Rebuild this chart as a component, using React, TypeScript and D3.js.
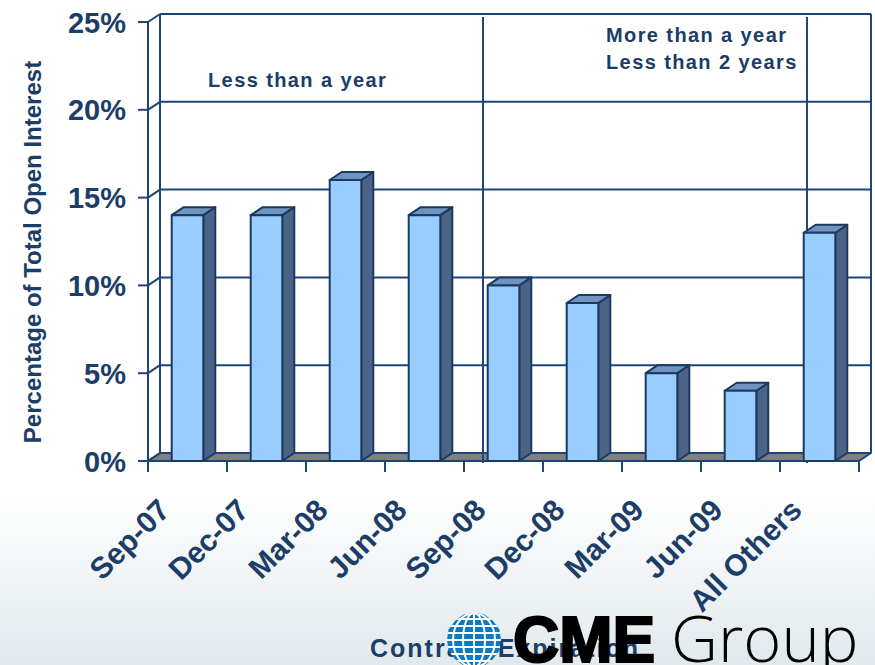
import React from "react";
import * as d3 from "d3";

const categories = ["Sep-07", "Dec-07", "Mar-08", "Jun-08", "Sep-08", "Dec-08", "Mar-09", "Jun-09", "All Others"];
const values = [14, 14, 16, 14, 10, 9, 5, 4, 13];
const yTicks = [0, 5, 10, 15, 20, 25];
const yTitle = "Percentage of Total Open Interest";
const xTitle = "Contract Expiration";
const note1 = ["Less than a year"];
const note2 = ["More than a year", "Less than 2 years"];

const W = 875, H = 665;
const L = 148, R = 859, Y0 = 461, YT = 22;
const DX = 12, DY = -8;
const NAVY = "#1B3D68";
const LINE = "#1F4476";
const FONT = "'Liberation Sans', Arial, sans-serif";

export default function App() {
  const x = d3.scaleBand<string>().domain(categories).range([L, R]).paddingInner(0.6).paddingOuter(0.3);
  const step = x.step();
  const y = d3.scaleLinear().domain([0, 25]).range([Y0, YT]);
  const bw = x.bandwidth();

  const gridLines = yTicks.map((t) => {
    const yf = y(t);
    return (
      <g key={"g" + t}>
        <line x1={L - 10} x2={L} y1={yf} y2={yf} stroke={LINE} strokeWidth={2} />
        <line x1={L} x2={L + DX} y1={yf} y2={yf + DY} stroke={LINE} strokeWidth={2} />
        {t > 0 && <line x1={L + DX} x2={R + DX} y1={yf + DY} y2={yf + DY} stroke={LINE} strokeWidth={2} />}
        <text x={126} y={yf + 10.5} textAnchor="end" fontFamily={FONT} fontWeight="bold" fontSize={29} fill={NAVY}>{t + "%"}</text>
      </g>
    );
  });

  const catTicks = d3.range(categories.length + 1).map((i) => {
    const xx = L + i * step;
    return <line key={"t" + i} x1={xx} x2={xx} y1={Y0} y2={Y0 + 11} stroke={LINE} strokeWidth={2} />;
  });

  const bars = categories.map((c, i) => {
    const x0 = x(c)!;
    const x1 = x0 + bw;
    const yt = y(values[i]);
    const side = `M${x1},${yt} L${x1 + DX},${yt + DY} L${x1 + DX},${Y0 + DY} L${x1},${Y0} Z`;
    const top = `M${x0},${yt} L${x0 + DX},${yt + DY} L${x1 + DX},${yt + DY} L${x1},${yt} Z`;
    return (
      <g key={c} stroke="#1B3A60" strokeWidth={2} strokeLinejoin="round">
        <path d={side} fill="#4D6385" />
        <path d={top} fill="#6F94C0" />
        <rect x={x0} y={yt} width={bw} height={Y0 - yt} fill="#99CCFF" />
      </g>
    );
  });

  const xLabels = categories.map((c) => {
    const cx = x(c)! + bw / 2;
    return (
      <text key={"l" + c} transform={`translate(${cx - 16},${512}) rotate(-45)`} textAnchor="end"
        fontFamily={FONT} fontWeight="bold" fontSize={30} fill={NAVY}>{c}</text>
    );
  });

  const floor = `M${L},${Y0} L${L + DX},${Y0 + DY} L${R + DX},${Y0 + DY} L${R},${Y0} Z`;

  // globe
  const gcx = 474, gcy = 640, gr = 27;

  return (
    <svg width={W} height={H} style={{ position: "fixed", left: 0, top: 0 }}>
      <defs>
        <linearGradient id="bg" x1="0" y1="0" x2="0" y2="1">
          <stop offset="0" stopColor="#ffffff" />
          <stop offset="0.74" stopColor="#ffffff" />
          <stop offset="1" stopColor="#E1E9ED" />
        </linearGradient>
        <clipPath id="globeClip">
          <path d={d3.range(16).map((k) => {
            const a = (k / 16) * Math.PI * 2;
            const rr = k % 2 === 0 ? gr : gr * 1.02;
            return (k === 0 ? "M" : "L") + (gcx + rr * Math.cos(a)) + "," + (gcy + rr * Math.sin(a));
          }).join(" ") + "Z"} />
        </clipPath>
      </defs>
      <rect x={0} y={0} width={W} height={H} fill="url(#bg)" />

      {/* walls */}
      <rect x={L + DX} y={y(25) + DY} width={R - L} height={Y0 - y(25)} fill="#ffffff" />
      <path d={floor} fill="#808080" stroke={LINE} strokeWidth={2} strokeLinejoin="round" />
      {gridLines}
      <line x1={L} x2={L} y1={y(25)} y2={Y0 + 11} stroke={LINE} strokeWidth={2} />
      <line x1={L + DX} x2={L + DX} y1={y(25) + DY} y2={Y0 + DY} stroke={LINE} strokeWidth={2} />
      <line x1={R + DX} x2={R + DX} y1={y(25) + DY} y2={Y0 + DY} stroke={LINE} strokeWidth={2} />
      <line x1={L} x2={R} y1={Y0} y2={Y0} stroke={LINE} strokeWidth={2} />
      {catTicks}

      {/* annotation dividers */}
      <line x1={483} x2={483} y1={17} y2={463} stroke={LINE} strokeWidth={2} />
      <line x1={807} x2={807} y1={17} y2={463} stroke={LINE} strokeWidth={2} />

      {bars}

      {note1.map((s, i) => (
        <text key={"n1" + i} x={208} y={87 + i * 27} fontFamily={FONT} fontWeight="bold" fontSize={20} letterSpacing={1.4} fill={NAVY}>{s}</text>
      ))}
      {note2.map((s, i) => (
        <text key={"n2" + i} x={606} y={42 + i * 27} fontFamily={FONT} fontWeight="bold" fontSize={20} letterSpacing={1.4} fill={NAVY}>{s}</text>
      ))}

      <text transform={`translate(41,252) rotate(-90)`} textAnchor="middle" fontFamily={FONT} fontWeight="bold" fontSize={24} fill={NAVY}>{yTitle}</text>

      {xLabels}

      <text x={370} y={657} fontFamily={FONT} fontWeight="bold" fontSize={25} letterSpacing={2} fill={NAVY}>{xTitle}</text>

      {/* CME Group logo */}
      <g clipPath="url(#globeClip)">
        <rect x={gcx - gr - 2} y={gcy - gr - 2} width={gr * 2 + 4} height={gr * 2 + 4} fill="#0B7AC5" />
        {d3.range(-3, 4).map((k) => (
          <line key={"h" + k} x1={gcx - gr} x2={gcx + gr} y1={gcy + k * 7} y2={gcy + k * 7} stroke="#ffffff" strokeWidth={2} />
        ))}
        <line x1={gcx} x2={gcx} y1={gcy - gr} y2={gcy + gr} stroke="#ffffff" strokeWidth={2} />
        <ellipse cx={gcx} cy={gcy} rx={11} ry={gr} fill="none" stroke="#ffffff" strokeWidth={2} />
        <ellipse cx={gcx} cy={gcy} rx={21} ry={gr} fill="none" stroke="#ffffff" strokeWidth={2} />
      </g>
      <text x={513} y={662} fontFamily={FONT} fontWeight="bold" fontSize={64} fill="#000000" stroke="#000000" strokeWidth={2.2}>CME</text>
      <text x={671} y={662} fontFamily="'Open Sans', 'Liberation Sans', sans-serif" fontWeight={300} fontSize={65} fill="#000000">Group</text>
    </svg>
  );
}
